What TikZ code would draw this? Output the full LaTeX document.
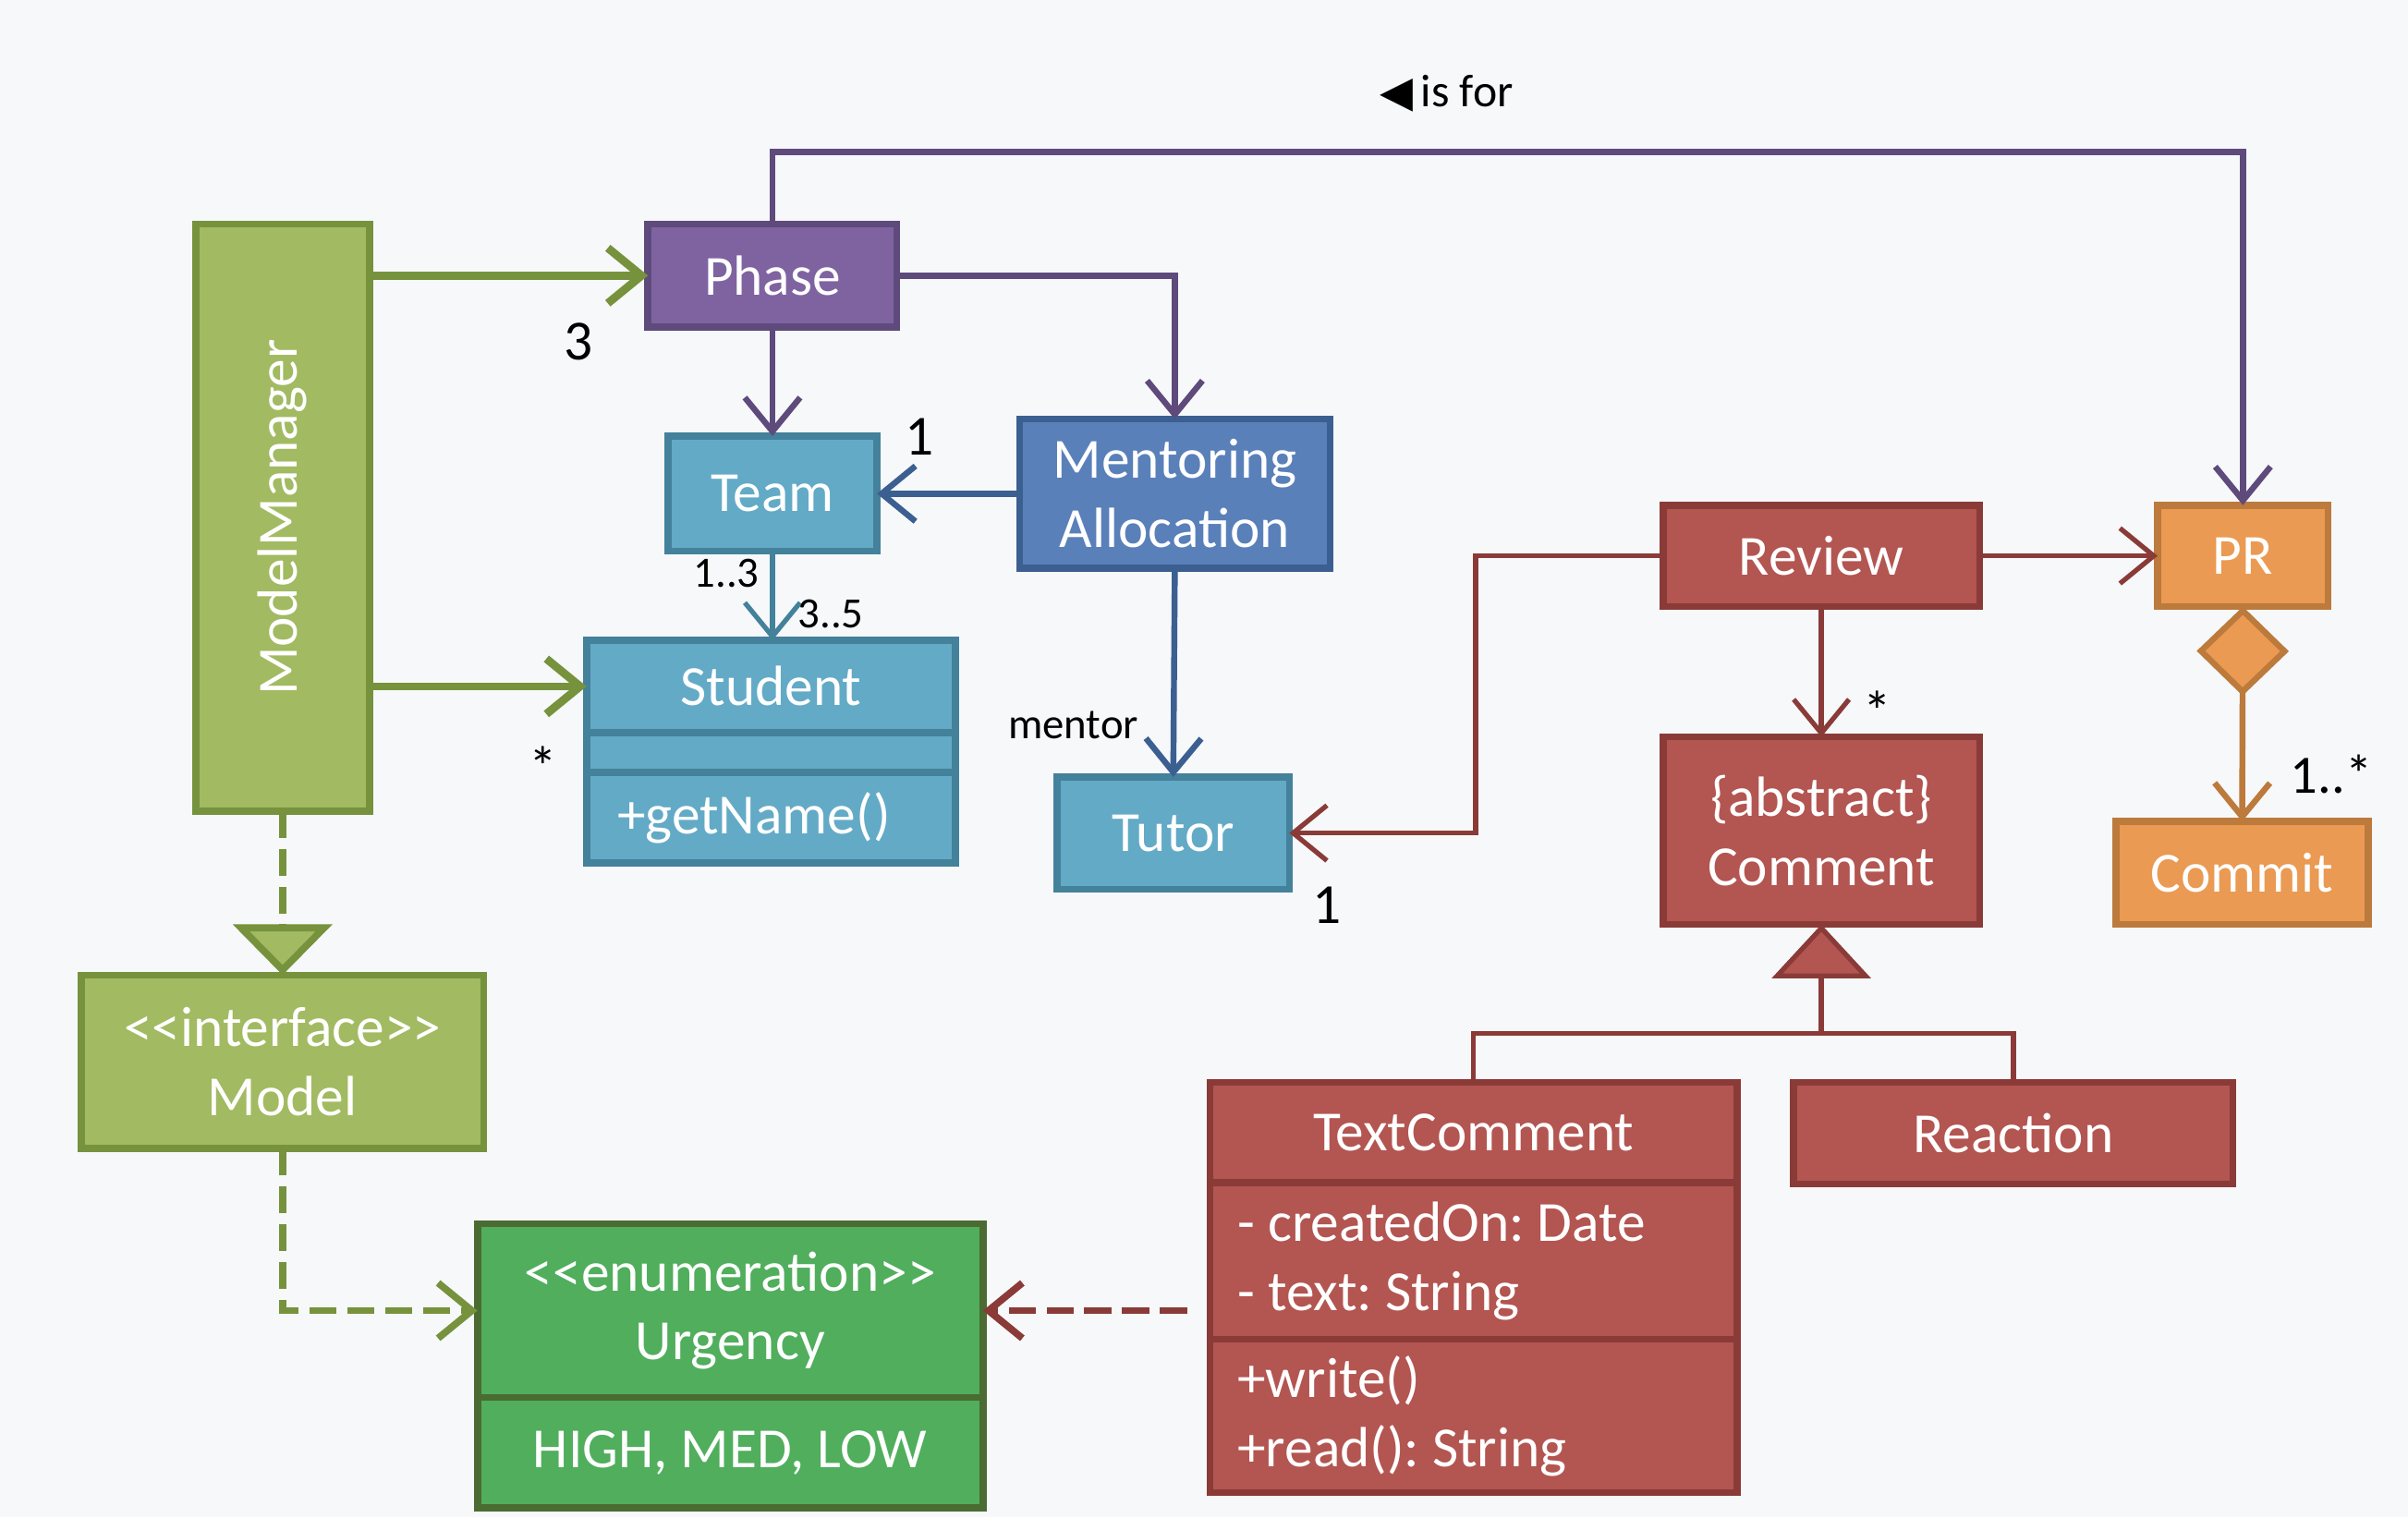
\documentclass[tikz,border=0pt]{standalone}
\usepackage{fontspec}
\setmainfont{Carlito}
\newfontfamily\symbfont{DejaVu Sans}
\usetikzlibrary{arrows.meta, positioning}
\frenchspacing

\definecolor{bg}{HTML}{F6F8FA}
\definecolor{mmfill}{HTML}{A2BA62}
\definecolor{mmline}{HTML}{76923C}
\definecolor{phasefill}{HTML}{7F63A1}
\definecolor{phaseline}{HTML}{5E4A7B}
\definecolor{teamfill}{HTML}{63AAC6}
\definecolor{teamline}{HTML}{44819B}
\definecolor{mentfill}{HTML}{5A80BA}
\definecolor{mentline}{HTML}{3C5F91}
\definecolor{revfill}{HTML}{B35551}
\definecolor{revline}{HTML}{8A3B38}
\definecolor{prfill}{HTML}{EA9A52}
\definecolor{prline}{HTML}{BC7A3C}
\definecolor{urgfill}{HTML}{50AE5D}
\definecolor{urgline}{HTML}{4A6B32}

\newcommand\boxfont{\fontsize{10.5}{12.8}\selectfont}
\newcommand\multfont{\fontsize{10.5}{12}\selectfont}
\newcommand\smallfont{\fontsize{8}{9}\selectfont}
\newcommand\stereo[1]{\textless\kern0pt\textless #1\textgreater\kern0pt\textgreater}

\begin{document}
\begin{tikzpicture}[
    x=0.01cm, y=-0.01cm,
    >={Straight Barb[length=2.2mm,width=3.6mm]},
    box/.style={draw, line width=1.3pt, outer sep=0pt, text=white, font=\boxfont, align=center, inner sep=0pt},
    greenbox/.style={box, fill=mmfill, draw=mmline},
    purplebox/.style={box, fill=phasefill, draw=phaseline},
    tealbox/.style={box, fill=teamfill, draw=teamline},
    bluebox/.style={box, fill=mentfill, draw=mentline},
    redbox/.style={box, fill=revfill, draw=revline},
    orangebox/.style={box, fill=prfill, draw=prline},
    enumbox/.style={box, fill=urgfill, draw=urgline},
    link/.style={->, line width=1.1pt},
    dep/.style={->, line width=1.3pt, dash pattern=on 5pt off 2pt},
    mult/.style={font=\multfont, inner sep=1pt},
    role/.style={font=\smallfont, inner sep=2pt},
]
    \fill[bg] (0,0) rectangle (1568,988);
    \useasboundingbox (0,0) rectangle (1568,988);

    % classes
    \node[greenbox, minimum width=1.13cm, minimum height=3.82cm] (mm) at (184,337) {\rotatebox{90}{ModelManager}};
    \node[purplebox, minimum width=1.62cm, minimum height=.67cm] (phase) at (503,179.5) {Phase};
    \node[tealbox, minimum width=1.36cm, minimum height=.75cm] (team) at (503,321.5) {Team};
    \node[bluebox, minimum width=2.02cm, minimum height=.97cm] (mentor) at (765,321.5) {Mentoring\\Allocation};
    \node[tealbox, minimum width=2.40cm, minimum height=.60cm] (stu) at (502,447) {Student};
    \node[tealbox, minimum width=2.40cm, minimum height=.26cm, below=0pt of stu] (stumid) {};
    \node[tealbox, text width=2.00cm, inner xsep=.2cm, minimum height=.59cm, align=flush left, below=0pt of stumid] (stuops) {+getName()};
    \node[tealbox, minimum width=1.51cm, minimum height=.73cm] (tutor) at (764,542.5) {Tutor};

    \node[redbox, minimum width=2.06cm, minimum height=.66cm] (review) at (1186,362) {Review};
    \node[orangebox, minimum width=1.11cm, minimum height=.66cm] (pr) at (1460.5,362) {PR};
    \node[orangebox, minimum width=1.64cm, minimum height=.67cm] (commit) at (1460,568.5) {Commit};
    \node[redbox, minimum width=2.06cm, minimum height=1.22cm] (comment) at (1186,541) {\{abstract\}\\Comment};
    \node[redbox, minimum width=3.43cm, minimum height=.65cm] (tc) at (959.5,737.5) {TextComment};
    \node[redbox, text width=3.07cm, inner xsep=.18cm, minimum height=1.02cm, align=flush left, below=0pt of tc] (tcattr) {- createdOn: Date\\- text: String};
    \node[redbox, text width=3.07cm, inner xsep=.18cm, minimum height=1.00cm, align=flush left, below=0pt of tcattr] (tcops) {+write()\\+read(): String};
    \node[redbox, minimum width=2.86cm, minimum height=.66cm] (rea) at (1311,738) {Reaction};

    \node[greenbox, minimum width=2.62cm, minimum height=1.13cm] (model) at (184,691.5) {\stereo{interface}\\Model};
    \node[enumbox, minimum width=3.29cm, minimum height=1.13cm] (urg) at (475.5,853.5) {\stereo{enumeration}\\Urgency};
    \node[enumbox, minimum width=3.29cm, minimum height=.72cm, below=0pt of urg] (urgvals) {HIGH, MED, LOW};

    \node[role, font=\fontsize{8.5}{10}\selectfont] (isfor) at (942,61) {{\symbfont\fontsize{8}{8}\selectfont ◀}\,is for};
    \coordinate (top) at (0,99);
    \coordinate[below=.71cm of comment.south] (joint);

    % associations
    \draw[link, draw=phaseline] (phase.north) -- (phase.north |- top) -| (pr.north);
    \draw[link, draw=phaseline] (phase.east) -| (mentor.north);
    \draw[link, draw=revline, line width=.9pt] (review.west) -- ++(-122,0) |- (tutor.east)
        node[mult, pos=.9, below=.3cm] {1};

    \path
        (mm.east |- phase.west) edge [link, draw=mmline, line width=1.5pt] node[mult, pos=.75, below=.25cm] {3} (phase.west)
        (mm.east |- stu.west)   edge [link, draw=mmline, line width=1.5pt] node[mult, pos=.8, below=.33cm] {*} (stu.west)
        (phase.south)           edge [link, draw=phaseline]               (team.north)
        (mentor.west)           edge [link, draw=mentline]                node[mult, pos=.7, above=.2cm] {1} (team.east)
        (team.south)            edge [link, draw=teamline, line width=.9pt] node[role, pos=.25, left] {1..3}
                                                                            node[role, pos=.7, right=.08cm] {3..5} (team.south |- stu.north)
        (mentor.south)          edge [link, draw=mentline]                node[role, pos=.75, left=.14cm] {mentor} (tutor.north)
        (review.east)           edge [link, draw=revline, line width=.9pt] (pr.west)
        (review.south)          edge [link, draw=revline, line width=.9pt] node[mult, pos=.8, right=.22cm] {*} (comment.north)
    ;

    % composition, generalisation, realisation
    \draw[draw=prline, line width=1.1pt, {Diamond[length=5.8mm,width=6mm,fill=prfill]}->] (pr.south) -- (commit.north)
        node[mult, pos=.78, right=.26cm, font=\fontsize{10}{11}\selectfont] {1..*};
    \draw[draw=revline, line width=.9pt] (tc.north) |- (joint) -| (rea.north);
    \draw[draw=revline, line width=.9pt, -{Triangle[length=.35cm,width=.64cm,fill=revfill]}] (joint) -- (comment.south);
    \draw[draw=mmline, line width=1.3pt, dash pattern=on 5pt off 2pt,
          -{Triangle[length=.33cm,width=.64cm,fill=mmfill]}] (mm.south) -- (model.north);

    % dependencies
    \draw[dep, draw=mmline] (model.south) |- (urg.west);
    \draw[dep, draw=revline, shorten <=.15cm] (tcattr.west |- urg.east) -- (urg.east);
\end{tikzpicture}
\end{document}
